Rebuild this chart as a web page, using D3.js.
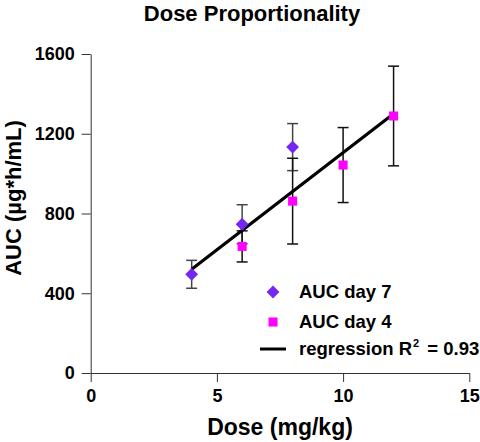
<!DOCTYPE html>
<html>
<head>
<meta charset="utf-8">
<script src="https://cdn.jsdelivr.net/npm/d3@7"></script>
<style>
  html, body { margin: 0; padding: 0; background: #fff; }
  svg { display: block; font-family: "Liberation Sans", Arial, sans-serif; }
</style>
</head>
<body>
<svg id="chart" width="480" height="442"></svg>
<script>
// ---- data ----
const day7Dose = [4, 6, 8];
const day7AUC  = [495, 746, 1133];
const day7Err  = [70, 98, 118];

const day4Dose = [6, 8, 10, 12];
const day4AUC  = [635, 862, 1043, 1289];
const day4Err  = [78, 215, 188, 250];

const regDose = [4, 12];
const regAUC  = [520, 1300];

const xTicks = [0, 5, 10, 15];
const yTicks = [0, 400, 800, 1200, 1600];

const legendLabels = ["AUC day 7", "AUC day 4", "regression R"];

// ---- layout ----
const svg = d3.select("#chart");
const x = d3.scaleLinear().domain([0, 15]).range([90.7, 469.3]);
const y = d3.scaleLinear().domain([0, 1600]).range([373, 54]);

const axisColor = "#333";

// axes
const gx = svg.append("g").attr("transform", `translate(0,${y(0)})`)
  .call(d3.axisBottom(x).tickValues(xTicks).tickFormat(d3.format("d")).tickSize(9).tickPadding(7).tickSizeOuter(0));
const gy = svg.append("g").attr("transform", `translate(${x(0)},0)`)
  .call(d3.axisLeft(y).tickValues(yTicks).tickFormat(d3.format("d")).tickSize(9).tickPadding(7).tickSizeOuter(0));
[gx, gy].forEach(g => {
  g.selectAll("path.domain").attr("stroke", axisColor).attr("stroke-width", 1);
  g.selectAll(".tick line").attr("stroke", axisColor).attr("stroke-width", 1);
  g.selectAll(".tick text").attr("fill", "#000")
    .style("font-family", "'Liberation Sans', Arial, sans-serif")
    .style("font-size", "18px").style("font-weight", "bold");
});

// titles
svg.append("text").attr("x", 252).attr("y", 21).attr("text-anchor", "middle")
  .style("font-size", "22px").style("font-weight", "bold").text("Dose Proportionality");
svg.append("text").attr("x", 280).attr("y", 435).attr("text-anchor", "middle")
  .style("font-size", "23px").style("font-weight", "bold").text("Dose (mg/kg)");
svg.append("text").attr("transform", "translate(21,198) rotate(-90)").attr("text-anchor", "middle")
  .style("font-size", "22px").style("font-weight", "bold").text("AUC (µg*h/mL)");

// error bars
function errorBars(doses, vals, errs, color) {
  const g = svg.append("g").attr("stroke", color).attr("stroke-width", 1.5).attr("fill", "none");
  doses.forEach((d, i) => {
    const cx = x(d), y1 = y(vals[i] + errs[i]), y2 = y(vals[i] - errs[i]);
    g.append("line").attr("x1", cx).attr("x2", cx).attr("y1", y1).attr("y2", y2);
    g.append("line").attr("x1", cx - 5.5).attr("x2", cx + 5.5).attr("y1", y1).attr("y2", y1);
    g.append("line").attr("x1", cx - 5.5).attr("x2", cx + 5.5).attr("y1", y2).attr("y2", y2);
  });
}
errorBars(day7Dose, day7AUC, day7Err, "#444");
errorBars(day4Dose, day4AUC, day4Err, "#111");

// regression line
const line = d3.line().x((d, i) => x(regDose[i])).y((d, i) => y(regAUC[i]));
svg.append("path").attr("d", line(regDose)).attr("stroke", "#000").attr("stroke-width", 3.2).attr("fill", "none");

// markers
const diamondColor = "#7426f2";
const squareColor = "#ff00ff";
const diamond = d3.symbol().type(d3.symbolDiamond2).size(105);
const square = d3.symbol().type(d3.symbolSquare).size(82);

svg.append("g").selectAll("path").data(day7Dose).join("path")
  .attr("transform", (d, i) => `translate(${x(d)},${y(day7AUC[i])})`)
  .attr("d", diamond())
  .attr("fill", diamondColor);
svg.append("g").selectAll("path").data(day4Dose).join("path")
  .attr("transform", (d, i) => `translate(${x(d)},${y(day4AUC[i])})`)
  .attr("d", square())
  .attr("fill", squareColor);

// legend
const lg = svg.append("g");
lg.append("path").attr("transform", "translate(273,292)").attr("d", diamond()).attr("fill", diamondColor);
lg.append("path").attr("transform", "translate(273,322)").attr("d", square()).attr("fill", squareColor);
lg.append("line").attr("x1", 260).attr("x2", 286).attr("y1", 349).attr("y2", 349).attr("stroke", "#000").attr("stroke-width", 3);
lg.append("text").attr("x", 299).attr("y", 298).style("font-size", "18.5px").style("font-weight", "bold").text(legendLabels[0]);
lg.append("text").attr("x", 299).attr("y", 328).style("font-size", "18.5px").style("font-weight", "bold").text(legendLabels[1]);
const rt = lg.append("text").attr("x", 299).attr("y", 355).style("font-size", "18.5px").style("font-weight", "bold");
rt.append("tspan").text(legendLabels[2]);
rt.append("tspan").attr("dy", -8).attr("dx", 1).style("font-size", "11px").text("2");
rt.append("tspan").attr("dy", 8).attr("dx", 3).text(" = 0.93");
</script>
</body>
</html>
